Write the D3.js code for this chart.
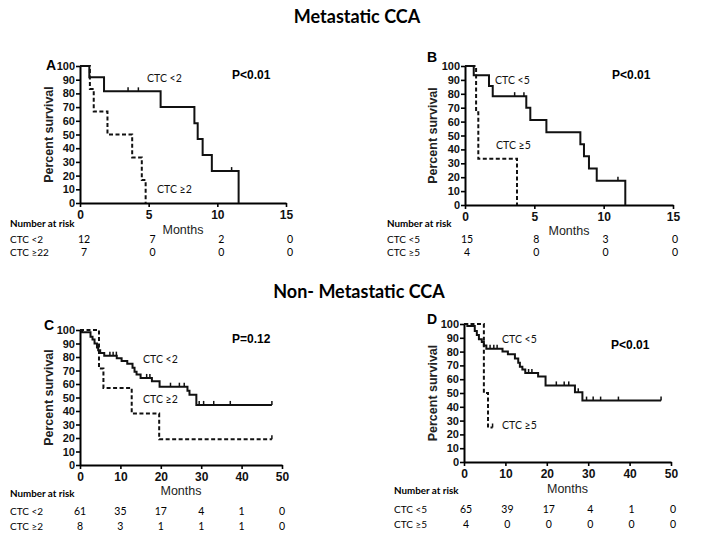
<!DOCTYPE html>
<html><head><meta charset="utf-8">
<script src="https://cdn.jsdelivr.net/npm/d3@7"></script>
<style>body{margin:0;background:#fff}svg{display:block}</style>
</head><body>
<svg id="c" width="714" height="539"></svg>
<script>
// ---------- data ----------
const yTicks = [0,10,20,30,40,50,60,70,80,90,100];
const xTicksMet = [0,5,10,15];
const xTicksNon = [0,10,20,30,40,50];

// Panel A (Metastatic, cut-off 2)
const aLowTimes = [0,0.68,1.75,5.87,8.33,8.57,8.93,9.6,11.55];
const aLowSurv  = [100,91.7,81.5,70,58.3,46.7,35,23.3,0];
const aLowCensor = [3.5,4.25,11.04];
const aHighTimes = [0,0.72,1.0,2.0,3.8,4.5,4.78];
const aHighSurv  = [100,83.3,66.7,50,33.3,16.7,0];
const aHighCensor = [];
const aRiskLow = [12,7,2,0];
const aRiskHigh = [7,0,0,0];

// Panel B (Metastatic, cut-off 5)
const bLowTimes = [0,0.63,1.73,2.0,4.42,4.71,5.87,8.32,8.58,8.94,9.5,11.56];
const bLowSurv  = [100,93.3,85.6,78.3,69.9,61.1,52.4,43.7,35,26.2,17.5,0];
const bLowCensor = [3.58,4.25,11.03];
const bHighTimes = [0,0.8,0.96,3.75];
const bHighSurv  = [100,66.7,33.3,0];
const bHighCensor = [];
const bRiskLow = [15,8,3,0];
const bRiskHigh = [4,0,0,0];

// Panel C (Non-metastatic, cut-off 2)
const cLowTimes = [0,0.5,2.6,3.1,3.6,4.2,4.5,5.0,6.0,9.1,10.3,11.7,13.0,13.5,14.0,15.0,17.8,19.7,26.6,27.1,28.8,47.5];
const cLowSurv  = [100,98.4,95,93,90,87,85,83,81,79,77,75,72,69,67,64.5,62,58,55,52,44.5,44.5];
const cLowCensor = [7.4,8.2,9.0,16.5,17.3,22.4,24.6,25.8,29.5,30.6,33.1,37.2,47.5];
const cHighTimes = [0,4.7,5.8,12.8,19.6,47.5];
const cHighSurv  = [100,71.4,57.1,38.1,19,19];
const cHighCensor = [47.5];
const cRiskLow = [61,35,17,4,1,0];
const cRiskHigh = [8,3,1,1,1,0];

// Panel D (Non-metastatic, cut-off 5)
const dLowTimes = [0,0.8,2.6,3.1,3.6,4.3,4.8,5.4,9.3,10.6,12.3,13.1,13.5,14.1,14.8,17.9,19.7,26.8,28.6,47.6];
const dLowSurv  = [100,98.5,95,92,89,87,84.5,82,80,78,75,72,69,67,64.5,62,55.5,50.5,44.5,44.5];
const dLowCensor = [6.3,7.2,8.0,15.6,16.4,22.3,24.2,25.3,27.6,29.6,31.2,33.0,37.3,47.6];
const dHighTimes = [0,4.8,5.8,6.9];
const dHighSurv  = [100,50,25,25];
const dHighCensor = [6.9];
const dRiskLow = [65,39,17,4,1,0];
const dRiskHigh = [4,0,0,0,0,0];

// ---------- drawing ----------
const svg = d3.select('#c');
const AR = '"Liberation Sans", Arial, sans-serif';
const CAL = 'Lato, "Open Sans", sans-serif';

svg.append('text').attr('x',357).attr('y',23).attr('text-anchor','middle')
  .attr('font-family',CAL).attr('font-weight','bold').attr('font-size',18).text('Metastatic CCA');
svg.append('text').attr('x',359).attr('y',298).attr('text-anchor','middle')
  .attr('font-family',CAL).attr('font-weight','bold').attr('font-size',18).text('Non- Metastatic CCA');

function panel(o){
  const g = svg.append('g');
  const x = d3.scaleLinear().domain([0,o.xmax]).range([o.x0,o.x1]);
  const y = d3.scaleLinear().domain([0,100]).range([o.yb,o.yt]);
  const yAx = g.append('g').attr('transform',`translate(${o.x0},0)`)
    .call(d3.axisLeft(y).tickValues(yTicks).tickSize(4).tickPadding(1).tickSizeOuter(0));
  const xAx = g.append('g').attr('transform',`translate(0,${o.yb})`)
    .call(d3.axisBottom(x).tickValues(o.xticks).tickSize(4).tickPadding(3).tickSizeOuter(0));
  [yAx,xAx].forEach(a=>{
    a.select('.domain').attr('stroke','#000').attr('stroke-width',2);
    a.selectAll('.tick line').attr('stroke','#000').attr('stroke-width',1.6);
    a.selectAll('text').attr('font-family',AR).attr('font-weight','bold').attr('fill','#111');
  });
  yAx.selectAll('text').attr('font-size',11);
  xAx.selectAll('text').attr('font-size',12);

  const line = d3.line().curve(d3.curveStepAfter).x(d=>x(d[0])).y(d=>y(d[1]));
  const sv = (t,s,tt)=>{ let v=s[0]; for(let i=0;i<t.length;i++){ if(t[i]<=tt) v=s[i]; } return v; };
  o.curves.forEach(c=>{
    const pts = c.t.map((t,i)=>[t,c.s[i]]);
    g.append('path').attr('d',line(pts)).attr('fill','none').attr('stroke','#111')
      .attr('stroke-width',2).attr('stroke-dasharray',c.dash?'4,2.5':null);
    c.cens.forEach(ct=>{
      const yy = y(sv(c.t,c.s,ct));
      g.append('line').attr('x1',x(ct)).attr('x2',x(ct)).attr('y1',yy).attr('y2',yy-4)
        .attr('stroke','#111').attr('stroke-width',1.5);
    });
  });

  g.append('text').attr('x',o.letter[0]).attr('y',o.letter[1]).attr('font-family',AR)
    .attr('font-weight','bold').attr('font-size',14).text(o.name);
  g.append('text').attr('transform',`translate(${o.ylabX},${(o.yt+o.yb)/2}) rotate(-90)`)
    .attr('text-anchor','middle').attr('font-family',AR).attr('font-weight','bold')
    .attr('font-size',12.5).attr('fill','#222').text('Percent survival');
  g.append('text').attr('x',(o.x0+o.x1)/2).attr('y',o.monthsY).attr('text-anchor','middle')
    .attr('font-family',AR).attr('font-size',12.5).attr('fill','#222').text('Months');
  g.append('text').attr('x',o.p[0]).attr('y',o.p[1]).attr('font-family',AR)
    .attr('font-weight','bold').attr('font-size',12).text(o.ptext);
  o.labels.forEach(l=>{
    g.append('text').attr('x',l[0]).attr('y',l[1]).attr('font-family',CAL)
      .attr('font-size',10.5).attr('fill','#111').text(l[2]);
  });
  // number at risk table
  g.append('text').attr('x',o.tblX).attr('y',o.tblY[0]).attr('font-family',CAL)
    .attr('font-weight','bold').attr('font-size',9.8).text('Number at risk');
  o.rows.forEach((r,i)=>{
    g.append('text').attr('x',o.tblX).attr('y',o.tblY[i+1]).attr('font-family',CAL)
      .attr('font-size',10).text(r.name);
    r.vals.forEach((v,j)=>{
      g.append('text').attr('x',x(o.xticks[j])+o.off).attr('y',o.tblY[i+1])
        .attr('text-anchor','middle').attr('font-family',CAL).attr('font-size',10.5).text(v);
    });
  });
}

panel({name:'A',xmax:15,xticks:xTicksMet,x0:80,x1:286,yt:66,yb:203,letter:[46,70],ylabX:53,
  monthsY:234,p:[232,79],ptext:'P<0.01',
  labels:[[147,82,'CTC <2'],[157,193,'CTC ≥2']],
  curves:[{t:aLowTimes,s:aLowSurv,cens:aLowCensor,dash:false},{t:aHighTimes,s:aHighSurv,cens:aHighCensor,dash:true}],
  tblX:10,tblY:[227,243,256],off:4,
  rows:[{name:'CTC <2',vals:aRiskLow},{name:'CTC ≥22',vals:aRiskHigh}]});

panel({name:'B',xmax:15,xticks:xTicksMet,x0:465,x1:673,yt:66,yb:205,letter:[427,62],ylabX:437,
  monthsY:235,p:[612,79],ptext:'P<0.01',
  labels:[[495,84,'CTC <5'],[496,149,'CTC ≥5']],
  curves:[{t:bLowTimes,s:bLowSurv,cens:bLowCensor,dash:false},{t:bHighTimes,s:bHighSurv,cens:bHighCensor,dash:true}],
  tblX:387,tblY:[227,243,256],off:2,
  rows:[{name:'CTC <5',vals:bRiskLow},{name:'CTC ≥5',vals:bRiskHigh}]});

panel({name:'C',xmax:50,xticks:xTicksNon,x0:80,x1:282,yt:330,yb:465,letter:[44,330],ylabX:53,
  monthsY:495,p:[232,343],ptext:'P=0.12',
  labels:[[143,363,'CTC <2'],[143,403,'CTC ≥2']],
  curves:[{t:cLowTimes,s:cLowSurv,cens:cLowCensor,dash:false},{t:cHighTimes,s:cHighSurv,cens:cHighCensor,dash:true}],
  tblX:10,tblY:[497,515,530],off:0,
  rows:[{name:'CTC <2',vals:cRiskLow},{name:'CTC ≥2',vals:cRiskHigh}]});

panel({name:'D',xmax:50,xticks:xTicksNon,x0:464,x1:671,yt:324,yb:462,letter:[427,324],ylabX:437,
  monthsY:493,p:[611,349],ptext:'P<0.01',
  labels:[[502,343,'CTC <5'],[502,429,'CTC ≥5']],
  curves:[{t:dLowTimes,s:dLowSurv,cens:dLowCensor,dash:false},{t:dHighTimes,s:dHighSurv,cens:dHighCensor,dash:true}],
  tblX:394,tblY:[494,513,528],off:2,
  rows:[{name:'CTC <5',vals:dRiskLow},{name:'CTC ≥5',vals:dRiskHigh}]});
</script>
</body></html>
